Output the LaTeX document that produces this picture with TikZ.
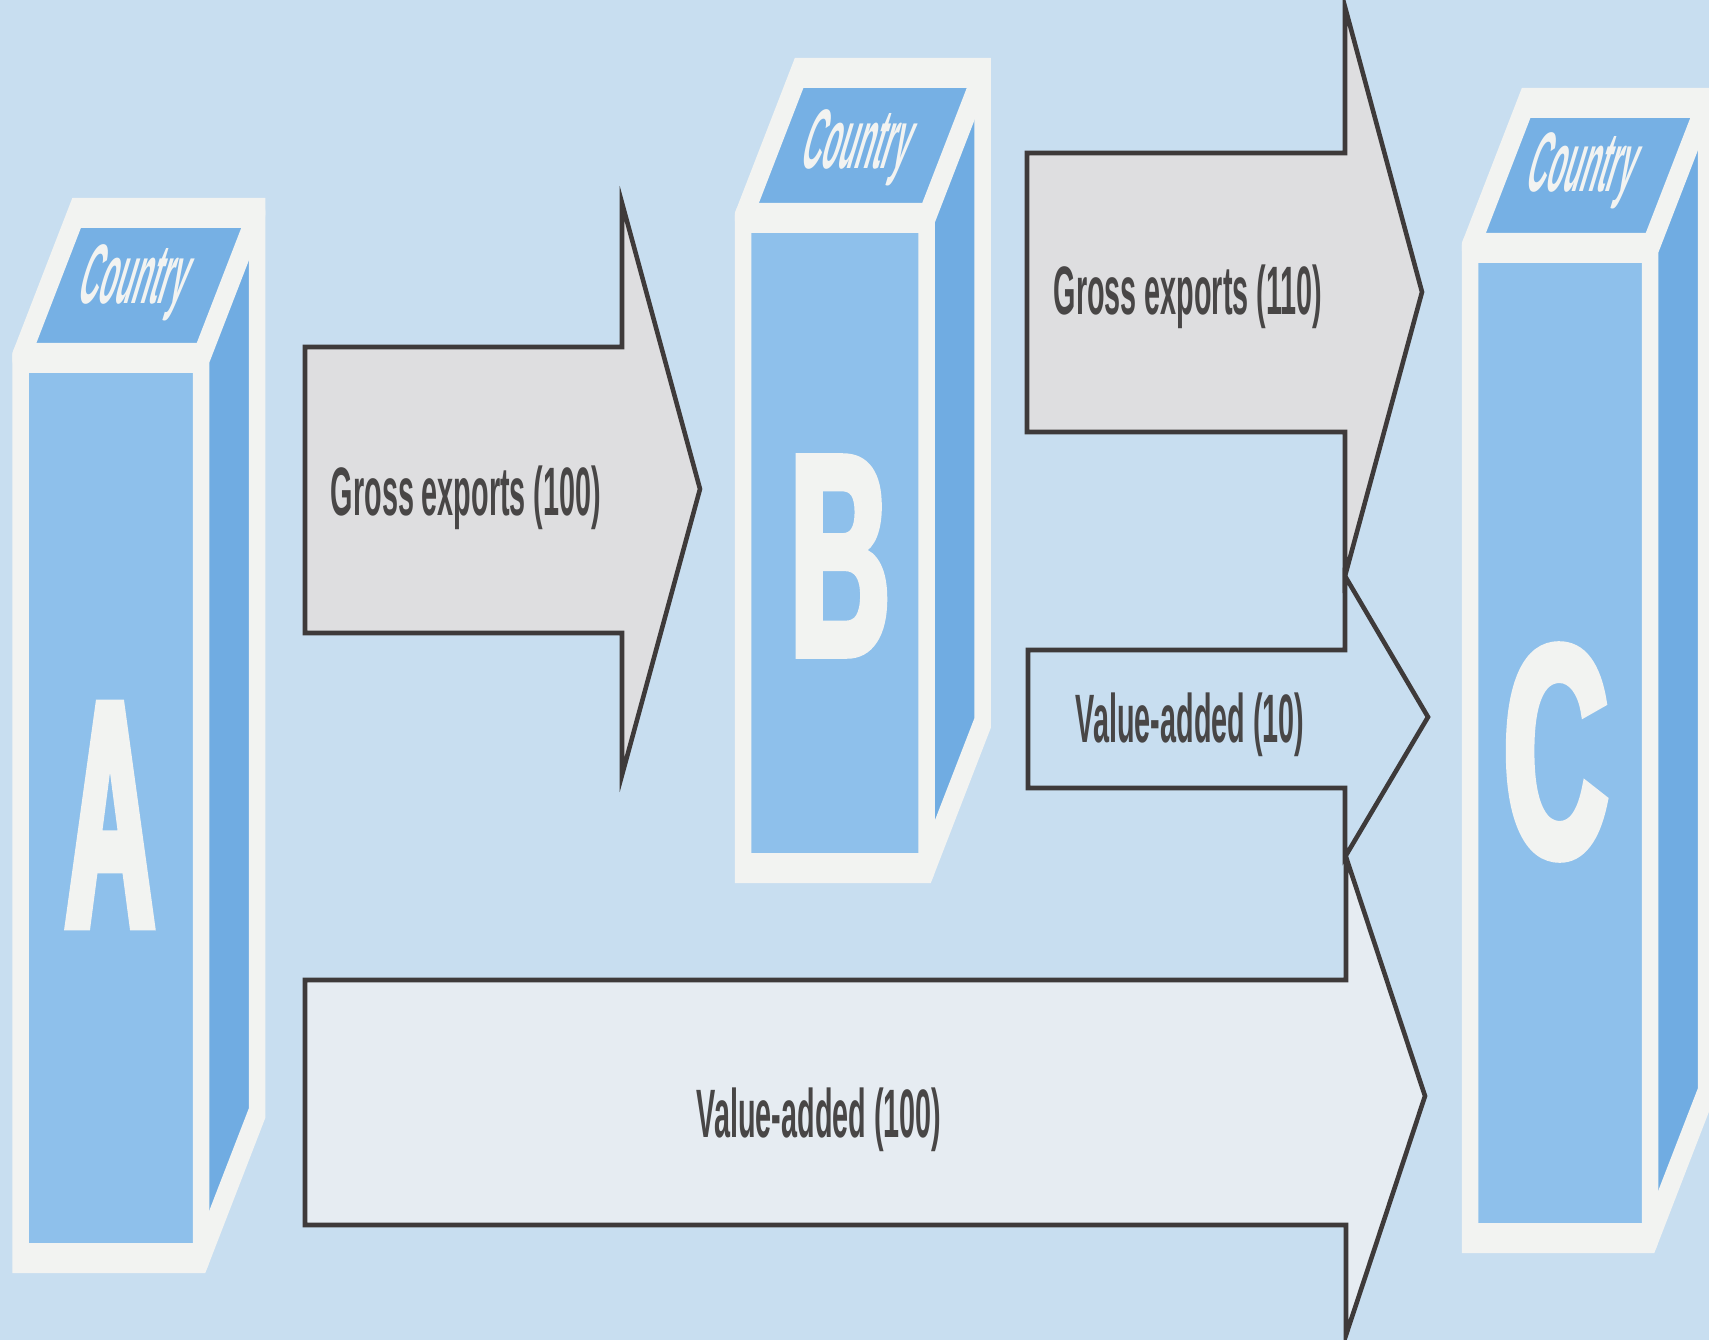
\documentclass[tikz,border=0pt]{standalone}
\usepackage{fontspec}
\setmainfont{Liberation Sans}
\newfontfamily\flowfont{Liberation Sans}[FakeStretch=0.42]
\newfontfamily\narrowletter{Liberation Sans}[FakeStretch=0.38, FakeBold=2.5]
\newfontfamily\wideletter{Liberation Sans}[FakeStretch=0.48, FakeBold=2.5]
\newfontfamily\tagfont{Liberation Sans}[FakeStretch=0.33]
\definecolor{paper}{RGB}{200,222,240}
\definecolor{frontblue}{RGB}{142,192,235}
\definecolor{sideblue}{RGB}{112,172,226}
\definecolor{topblue}{RGB}{118,176,228}
\definecolor{rim}{RGB}{242,243,241}
\definecolor{grossfill}{RGB}{222,222,224}
\definecolor{vafill}{RGB}{230,236,242}
\definecolor{outline}{RGB}{62,58,58}
\definecolor{ink}{RGB}{72,70,70}

\begin{document}
\begin{tikzpicture}[
    flow/.style={draw=outline, line width=1.3pt, line join=miter},
    flowlabel/.style={text=ink, inner sep=0pt, font=\flowfont\bfseries\fontsize{19.5}{20}\selectfont},
    letter/.style={text=rim, inner sep=0pt},
    tag/.style={text=rim, inner sep=0pt, xslant=0.3, font=\tagfont\bfseries\fontsize{24}{24}\selectfont}]
    \useasboundingbox (0,0) rectangle (17.09,-13.40);
    \clip (0,0) rectangle (17.09,-13.40);
    \fill[paper] (0,0) rectangle (17.09,-13.40);

    % Laender als Quader (schmal gezogen, damit senkrechte Kanten duenner sind)
    \foreach \x/\y/\w/\h in {0.205/-3.58/1.805/9.00, 7.43/-2.18/1.835/6.50, 14.70/-2.48/1.80/9.90} {
        \begin{scope}[transform canvas={shift={(\x,\y)}, xscale=0.55}]
            \pgfmathsetmacro\ww{\w/0.55}
            \fill[frontblue] (0,0) rectangle (\ww,-\h);
            \fill[topblue] (0,0) -- ++(1.02,1.45) -- ++(\ww,0) -- ++(-1.02,-1.45) -- cycle;
            \fill[sideblue] (\ww,0) -- ++(1.02,1.45) -- ++(0,-\h) -- ++(-1.02,-1.45) -- cycle;
            \draw[rim, line width=0.3cm] (0,0) -- ++(1.02,1.45) -- ++(\ww,0) -- ++(0,-\h)
                -- ++(-1.02,-1.45) -- ++(-\ww,0) -- cycle;
            \draw[rim, line width=0.3cm, line cap=round] (0,0) -- ++(\ww,0) -- ++(1.02,1.45)
                (\ww,0) -- ++(0,-\h);
        \end{scope}
    }
    \node[letter, font=\narrowletter\bfseries\fontsize{92}{92}\selectfont] (lettA) at (1.10,-8.15) {A};
    \node[letter, font=\wideletter\bfseries\fontsize{82}{82}\selectfont] (lettB) at (8.40,-5.56) {B};
    \node[letter, font=\wideletter\bfseries\fontsize{86}{86}\selectfont] (lettC) at (15.56,-7.52) {C};
    \node[tag] (tagA) at (1.35,-2.83) {Country};
    \node[tag] (tagB) at (8.58,-1.48) {Country};
    \node[tag] (tagC) at (15.83,-1.71) {Country};

    % Pfeile
    \draw[flow, fill=grossfill] (3.05,-3.47) -- (6.22,-3.47) -- (6.22,-2.03) -- (7.00,-4.89)
        -- (6.22,-7.75) -- (6.22,-6.33) -- (3.05,-6.33) -- cycle;
    \draw[flow, fill=grossfill] (10.27,-1.53) -- (13.45,-1.53) -- (13.45,-0.07) -- (14.22,-2.92)
        -- (13.45,-5.76) -- (13.45,-4.32) -- (10.27,-4.32) -- cycle;
    \draw[flow] (10.28,-6.50) -- (13.45,-6.50) -- (13.45,-5.76) -- (14.28,-7.17)
        -- (13.45,-8.57) -- (13.45,-7.88) -- (10.28,-7.88) -- cycle;
    \draw[flow, fill=vafill] (3.05,-9.80) -- (13.46,-9.80) -- (13.46,-8.57) -- (14.25,-10.96)
        -- (13.46,-13.35) -- (13.46,-12.25) -- (3.05,-12.25) -- cycle;

    \node[flowlabel] (ge100) at (4.66,-4.98) {Gross exports (100)};
    \node[flowlabel] (ge110) at (11.88,-2.97) {Gross exports (110)};
    \node[flowlabel] (va10) at (11.90,-7.25) {Value-added (10)};
    \node[flowlabel] (va100) at (8.19,-11.20) {Value-added (100)};
\end{tikzpicture}
\end{document}
